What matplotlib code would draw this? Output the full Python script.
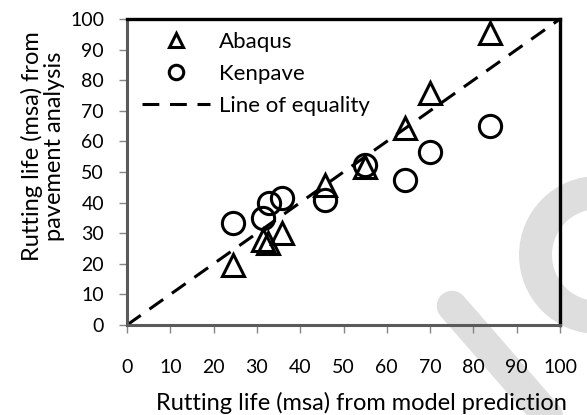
import numpy as np
import matplotlib
matplotlib.use("Agg")
import matplotlib.pyplot as plt
from matplotlib.patches import Wedge

plt.rcParams['font.family'] = ['Lato', 'DejaVu Sans']

# Abaqus: model prediction vs pavement analysis
abaqus_x = [24.5, 31.5, 32.6, 35.7, 45.7, 55.0, 64.2, 70.0, 83.8]
abaqus_y = [19.6, 27.8, 26.7, 30.0, 45.8, 51.7, 64.3, 75.7, 95.5]
# Kenpave
kenpave_x = [24.5, 31.5, 32.9, 35.7, 45.7, 55.0, 64.2, 70.0, 83.8]
kenpave_y = [33.2, 34.9, 39.8, 41.4, 40.8, 52.3, 47.4, 56.6, 65.0]
# line of equality
eq_x = [0, 100]
eq_y = [0, 100]

ticks = list(range(0, 101, 10))

fig = plt.figure(figsize=(5.87, 4.15), dpi=100)

# faint watermark behind the chart
bg = fig.add_axes([0, 0, 1, 1], zorder=0)
bg.set_xlim(0, 587)
bg.set_ylim(415, 0)
bg.axis('off')
bg.add_patch(Wedge((598, 255), 79, 0, 360, width=33, color='#dedede', lw=0))
bg.plot([452, 560], [306, 430], color='#dedede', lw=22, solid_capstyle='round')

ax = fig.add_axes([127 / 587, 1 - 325 / 415, 433 / 587, 306 / 415], zorder=1)
ax.patch.set_alpha(0)

ax.plot(abaqus_x, abaqus_y, ls='none', marker='^', ms=16, mfc='none',
        mec='black', mew=2.2, label='Abaqus')
ax.plot(kenpave_x, kenpave_y, ls='none', marker='o', ms=16, mfc='none',
        mec='black', mew=2.2, label='Kenpave')
ax.plot(eq_x, eq_y, color='black', lw=2.2, dashes=(5.5, 3.5),
        label='Line of equality')

ax.set_xlim(0, 100)
ax.set_ylim(0, 100)
ax.set_xticks(ticks)
ax.set_yticks(ticks)
ax.tick_params(direction='out', length=5.5, width=1, color='#868686',
               labelsize=14)
ax.tick_params(axis='x', pad=19)
ax.tick_params(axis='y', pad=11)

for s in ['top', 'right']:
    ax.spines[s].set_color('black')
    ax.spines[s].set_linewidth(2.4)
for s in ['left', 'bottom']:
    ax.spines[s].set_color('#5a5a5a')
    ax.spines[s].set_linewidth(2.2)

ax.legend(loc='upper left', frameon=False, fontsize=16, markerscale=0.65,
          handlelength=3.05, handletextpad=0.4, labelspacing=0.55,
          borderaxespad=0.1, bbox_to_anchor=(0.01, 0.995))

fig.text(361 / 587, 1 - 410 / 415, 'Rutting life (msa) from model prediction',
         ha='center', va='baseline', fontsize=17)
fig.text(43 / 587, 1 - 146 / 415, 'Rutting life (msa) from\npavement analysis',
         ha='center', va='center', rotation=90, fontsize=17,
         multialignment='center', linespacing=1.1)

fig.savefig('out.png', dpi=100, facecolor='white')
